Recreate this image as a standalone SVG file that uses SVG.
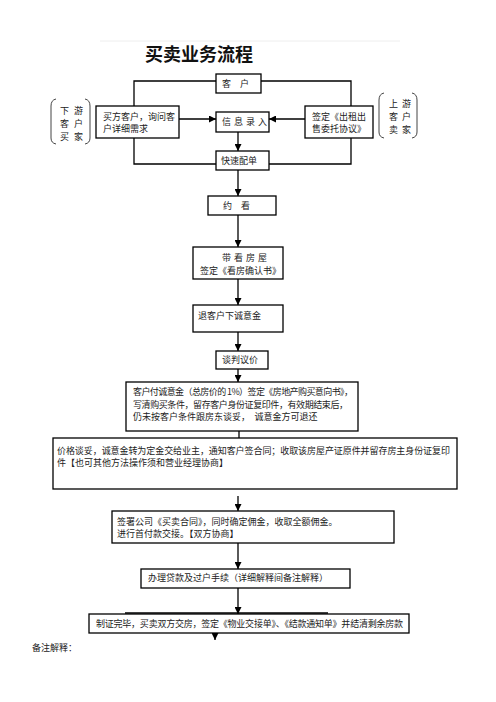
<svg xmlns="http://www.w3.org/2000/svg" width="496" height="702" viewBox="0 0 496 702">
<defs>
<marker id="ah" viewBox="0 0 10 10" refX="10" refY="5" markerWidth="7" markerHeight="7" markerUnits="userSpaceOnUse" orient="auto">
<path d="M0,0 L10,5 L0,10 z" fill="#000"/>
</marker>
</defs>
<style>
.box{fill:#fff;stroke:#000;stroke-width:1.3}
.ln{fill:none;stroke:#000;stroke-width:1.3}
.ar{fill:none;stroke:#000;stroke-width:1.3;marker-end:url(#ah)}
.t{font-family:"Noto Sans CJK SC","Noto Sans",sans-serif;font-size:9px;fill:#222}
.sp{letter-spacing:3px}
.title{font-family:"Noto Sans CJK SC","Noto Sans",sans-serif;font-size:18px;font-weight:bold;fill:#111}
.br{fill:none;stroke:#444;stroke-width:1}
</style>
<rect width="496" height="702" fill="#fff"/>
<line x1="100" y1="41" x2="400" y2="41" stroke="#eee" stroke-width="1"/>
<text class="title" x="145" y="61">买卖业务流程</text>
<g id="connectors">
<polyline class="ln" points="216,81 134,81 134,164 216,164"/>
<polyline class="ln" points="261,81 351,81 351,164 269,164"/>
<line class="ar" x1="179" y1="119" x2="216" y2="119"/>
<line class="ar" x1="305" y1="119" x2="269" y2="119"/>
<line class="ar" x1="238" y1="132" x2="238" y2="151"/>
<line class="ar" x1="238" y1="170" x2="238" y2="196"/>
<line class="ar" x1="238" y1="215" x2="238" y2="247"/>
<line class="ar" x1="238" y1="279" x2="238" y2="305"/>
<line class="ar" x1="238" y1="332" x2="238" y2="351"/>
<line class="ar" x1="238" y1="369" x2="238" y2="382"/>
<line class="ln" x1="239" y1="431" x2="239" y2="438"/>
<line class="ar" x1="238" y1="496" x2="238" y2="511"/>
<line class="ar" x1="238" y1="543" x2="238" y2="569"/>
<line class="ar" x1="238" y1="588" x2="238" y2="614"/>
<line class="ln" x1="125" y1="613" x2="328" y2="613"/>
<line class="ar" x1="215" y1="633" x2="215" y2="640"/>
</g>
<g id="bracket-left">
<path class="br" d="M56,99 Q51,100 51,106 L51,138 Q51,143 56,144"/>
<path class="br" d="M85,99 Q90,100 90,106 L90,138 Q90,143 85,144"/>
<text class="t" x="60" y="114" letter-spacing="5">下游</text>
<text class="t" x="60" y="127" letter-spacing="5">客户</text>
<text class="t" x="60" y="140" letter-spacing="5">买家</text>
</g>
<g id="bracket-right">
<path class="br" d="M384,93 Q379,94 379,100 L379,132 Q379,137 384,138"/>
<path class="br" d="M412,93 Q417,94 417,100 L417,132 Q417,137 412,138"/>
<text class="t" x="389" y="107" letter-spacing="4">上游</text>
<text class="t" x="389" y="120" letter-spacing="4">客户</text>
<text class="t" x="389" y="133" letter-spacing="4">卖家</text>
</g>
<g id="n-kehu">
<rect class="box" x="216" y="74" width="45" height="19"/>
<text class="t" x="222" y="87">客　户</text>
</g>
<g id="n-buyer">
<rect class="box" x="96" y="106" width="83" height="32"/>
<text class="t" x="103" y="120">买方客户，询问客</text>
<text class="t" x="103" y="132">户详细需求</text>
</g>
<g id="n-info">
<rect class="box" x="216" y="112" width="53" height="20"/>
<text class="t sp" x="222" y="125">信息录入</text>
</g>
<g id="n-seller">
<rect class="box" x="305" y="106" width="68" height="32"/>
<text class="t" x="312" y="120">签定《出租出</text>
<text class="t" x="312" y="132">售委托协议》</text>
</g>
<g id="n-match">
<rect class="box" x="216" y="151" width="53" height="19"/>
<text class="t" x="221" y="164">快速配单</text>
</g>
<g id="n-appoint">
<rect class="box" x="208" y="196" width="68" height="19"/>
<text class="t" x="223" y="209">约　看</text>
</g>
<g id="n-view">
<rect class="box" x="193" y="247" width="90" height="32"/>
<text class="t sp" x="222" y="261">带看房屋</text>
<text class="t" x="200" y="274">签定《看房确认书》</text>
</g>
<g id="n-deposit">
<rect class="box" x="193" y="305" width="90" height="27"/>
<text class="t" x="198" y="319">退客户下诚意金</text>
</g>
<g id="n-negotiate">
<rect class="box" x="216" y="351" width="52" height="18"/>
<text class="t" x="222" y="363">谈判议价</text>
</g>
<g id="n-intent">
<rect class="box" x="126" y="382" width="232" height="49"/>
<text class="t" x="133" y="395" textLength="220">客户付诚意金（总房价的 1%）签定《房地产购买意向书》，</text>
<text class="t" x="133" y="408" textLength="215">写清购买条件，留存客户身份证复印件，有效期结束后，</text>
<text class="t" x="133" y="420">仍未按客户条件跟房东谈妥，　诚意金方可退还</text>
</g>
<g id="n-price">
<rect class="box" x="53" y="438" width="404" height="51"/>
<text class="t" x="57" y="454" textLength="393">价格谈妥，诚意金转为定金交给业主，通知客户签合同；收取该房屋产证原件并留存房主身份证复印</text>
<text class="t" x="57" y="466">件【也可其他方法操作须和营业经理协商】</text>
</g>
<g id="n-contract">
<rect class="box" x="112" y="511" width="282" height="32"/>
<text class="t" x="117" y="525">签署公司《买卖合同》，同时确定佣金，收取全额佣金。</text>
<text class="t" x="117" y="537">进行首付款交接。【双方协商】</text>
</g>
<g id="n-loan">
<rect class="box" x="141" y="569" width="209" height="19"/>
<text class="t" x="148" y="581">办理贷款及过户手续（详细解释间备注解释）</text>
</g>
<g id="n-handover">
<rect class="box" x="89" y="614" width="320" height="19"/>
<text class="t" x="96" y="627" textLength="307">制证完毕，买卖双方交房，签定《物业交接单》、《结款通知单》并结清剩余房款</text>
</g>
<text class="t" x="32" y="651">备注解释：</text>
</svg>
